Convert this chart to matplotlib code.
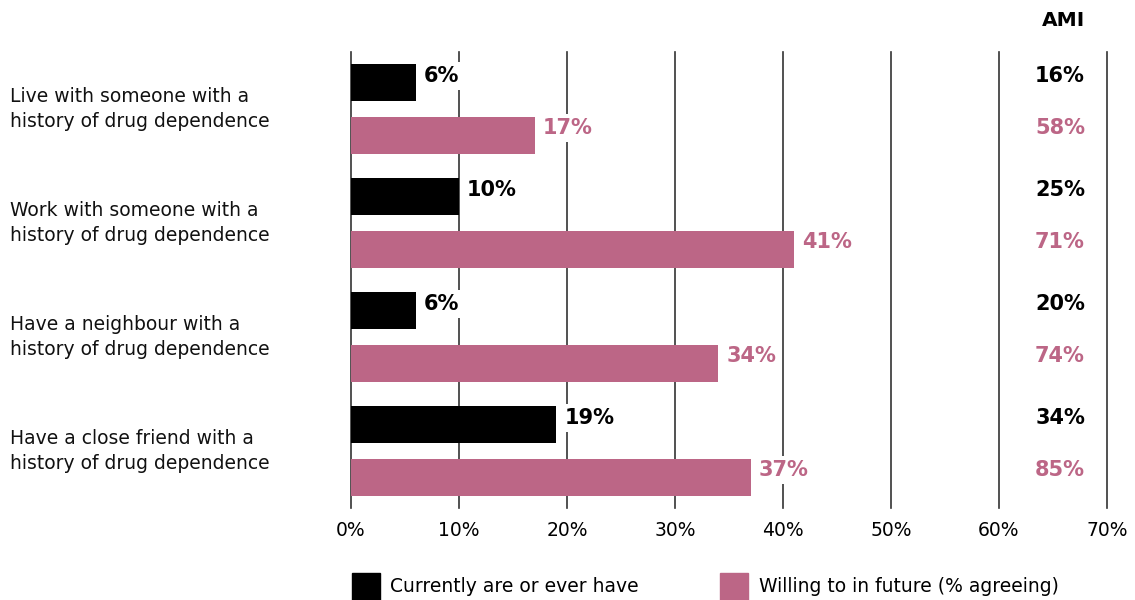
import numpy as np
import matplotlib.pyplot as plt
from matplotlib.patches import Rectangle
from matplotlib.transforms import blended_transform_factory

# Datos
categorias = ['Live with someone with a\nhistory of drug dependence',
              'Work with someone with a\nhistory of drug dependence',
              'Have a neighbour with a\nhistory of drug dependence',
              'Have a close friend with a\nhistory of drug dependence']
actual = [6, 10, 6, 19]        # Currently are or ever have
futuro = [17, 41, 34, 37]      # Willing to in future
ami_actual = [16, 25, 20, 34]
ami_futuro = [58, 71, 74, 85]
ticks = [0, 10, 20, 30, 40, 50, 60, 70]

negro = '#000000'
rosa = '#BC6686'
gris = '#333333'

plt.rcParams['font.family'] = ['DejaVu Sans']

fig = plt.figure(figsize=(11.35, 6.0), dpi=100)
ax = fig.add_axes([351/1135, 1 - 508/600, (1107 - 351)/1135, (508 - 52)/600])

yy = np.arange(len(categorias))
dy = 0.229
alto = 0.326

ax.barh(yy - dy, actual, height=alto, color=negro, zorder=3)
ax.barh(yy + dy, futuro, height=alto, color=rosa, zorder=3)

# grilla vertical
for t in ticks:
    ax.axvline(t, color=gris, lw=1.2, zorder=1, clip_on=False)

ax.set_xlim(0, 70)
ax.set_ylim(3.5, -0.5)
ax.set_xticks(ticks)
ax.set_xticklabels([f'{t}%' for t in ticks], fontsize=13.5)
ax.tick_params(axis='x', length=0, pad=9)
ax.set_yticks([])
for s in ax.spines.values():
    s.set_visible(False)

# x en coords de figura, y en datos
trans = blended_transform_factory(fig.transFigure, ax.transData)
caja = dict(facecolor='white', edgecolor='none', pad=3)

# etiquetas de valor
for i in range(len(categorias)):
    ax.annotate(f'{actual[i]}%', (actual[i], yy[i] - dy), xytext=(8, 7),
                textcoords='offset pixels', va='center', ha='left', bbox=caja,
                fontsize=15, fontweight='bold', color=negro, zorder=4)
    ax.annotate(f'{futuro[i]}%', (futuro[i], yy[i] + dy), xytext=(8, 7),
                textcoords='offset pixels', va='center', ha='left', bbox=caja,
                fontsize=15, fontweight='bold', color=rosa, zorder=4)
    # columna AMI
    ax.annotate(f'{ami_actual[i]}%', (1085/1135, yy[i] - dy), xycoords=trans,
                xytext=(0, 7), textcoords='offset pixels',
                ha='right', va='center', fontsize=15, fontweight='bold', color=negro)
    ax.annotate(f'{ami_futuro[i]}%', (1085/1135, yy[i] + dy), xycoords=trans,
                xytext=(0, 7), textcoords='offset pixels',
                ha='right', va='center', fontsize=15, fontweight='bold', color=rosa)
    # categorias
    ax.text(10/1135, yy[i], categorias[i], transform=trans,
            ha='left', va='center', fontsize=13.5, linespacing=1.35, color='#111111')

fig.text(1085/1135, 1 - 21/600, 'AMI', ha='right', va='center',
         fontsize=14.5, fontweight='bold')

# leyenda
fig.add_artist(Rectangle((352/1135, 0), 28/1135, 27/600, transform=fig.transFigure,
                         color=negro))
fig.text(390/1135, 1 - 586/600, 'Currently are or ever have', ha='left', va='center',
         fontsize=13.5)
fig.add_artist(Rectangle((720/1135, 0), 28/1135, 27/600, transform=fig.transFigure,
                         color=rosa))
fig.text(759/1135, 1 - 586/600, 'Willing to in future (% agreeing)', ha='left', va='center',
         fontsize=13.5)

fig.savefig('out.png', dpi=100)
